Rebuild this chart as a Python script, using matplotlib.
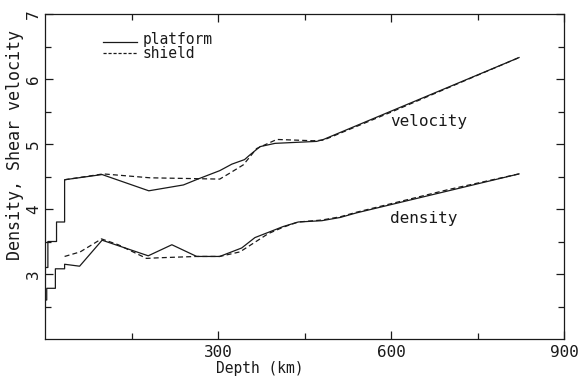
import matplotlib
matplotlib.use("Agg")
import matplotlib.pyplot as plt
from matplotlib.ticker import FixedLocator

# ---- data (depth in km) ----
plat_vel_depth = [0, 5, 5, 20, 20, 34, 34, 99, 180, 240, 265, 303, 324, 346, 355, 373, 399, 471, 483, 822]
plat_vel = [3.10, 3.10, 3.50, 3.50, 3.80, 3.80, 4.45, 4.53, 4.28, 4.37, 4.46, 4.59, 4.69, 4.76, 4.83, 4.96, 5.01, 5.04, 5.07, 6.33]

shield_vel_depth = [34, 101, 182, 303, 322, 344, 367, 402, 465, 483, 600, 822]
shield_vel = [4.45, 4.54, 4.48, 4.46, 4.56, 4.68, 4.93, 5.07, 5.05, 5.06, 5.49, 6.33]

plat_den_depth = [0, 3, 3, 18, 18, 34, 34, 60, 99, 179, 220, 263, 303, 341, 364, 390, 413, 439, 480, 512, 540, 822]
plat_den = [2.60, 2.60, 2.78, 2.78, 3.08, 3.08, 3.15, 3.12, 3.52, 3.28, 3.45, 3.27, 3.27, 3.40, 3.56, 3.65, 3.73, 3.80, 3.82, 3.87, 3.94, 4.54]

shield_den_depth = [34, 61, 98, 127, 176, 199, 263, 303, 338, 387, 413, 439, 480, 512, 540, 700, 822]
shield_den = [3.27, 3.34, 3.54, 3.45, 3.24, 3.25, 3.27, 3.27, 3.34, 3.62, 3.72, 3.80, 3.83, 3.88, 3.95, 4.30, 4.54]

legend_labels = ["platform", "shield"]
curve_labels = ["velocity", "density"]
xticks = [300, 600, 900]
xminor = [150, 450, 750]
yticks = [3, 4, 5, 6, 7]
yminor = [2.5, 3.5, 4.5, 5.5, 6.5]

FONT = "DejaVu Sans Mono"
INK = "#1a1a1a"

fig = plt.figure(figsize=(5.79, 3.79), dpi=100)
ax = fig.add_axes([45/579, 40/379, 519/579, 325/379])

lw = 0.9
ax.plot(plat_vel_depth, plat_vel, color=INK, lw=lw, ls="-")
ax.plot(shield_vel_depth, shield_vel, color=INK, lw=lw, ls=(0, (4, 2.5)))
ax.plot(plat_den_depth, plat_den, color=INK, lw=lw, ls="-")
ax.plot(shield_den_depth, shield_den, color=INK, lw=lw, ls=(0, (4, 2.5)))

ax.set_xlim(0, 900)
ax.set_ylim(2, 7)

ax.xaxis.set_major_locator(FixedLocator(xticks))
ax.xaxis.set_minor_locator(FixedLocator(xminor))
ax.yaxis.set_major_locator(FixedLocator(yticks))
ax.yaxis.set_minor_locator(FixedLocator(yminor))

ax.tick_params(which="both", direction="in", top=True, right=True, color=INK, width=0.9)
ax.tick_params(which="major", length=6)
ax.tick_params(which="minor", length=4)
ax.tick_params(axis="x", which="major", pad=4, labelsize=11.5, labelcolor=INK)
ax.tick_params(axis="y", which="major", pad=3, labelsize=11.5, labelcolor=INK, labelrotation=90)
for lab in ax.get_xticklabels() + ax.get_yticklabels():
    lab.set_family(FONT)
for lab in ax.get_yticklabels():
    lab.set_va("center")

for s in ax.spines.values():
    s.set_color(INK)
    s.set_linewidth(0.9)

ax.set_xlabel("Depth (km)", family=FONT, fontsize=10.5, color=INK)
ax.xaxis.set_label_coords(0.414, -0.068)
ax.set_ylabel("Density, Shear velocity", family=FONT, fontsize=12, color=INK)
ax.yaxis.set_label_coords(-0.040, 0.597)

# legend drawn in axes coordinates
ax.plot([0.112, 0.177], [0.915, 0.915], transform=ax.transAxes, color=INK, lw=lw, ls="-")
ax.plot([0.112, 0.177], [0.881, 0.881], transform=ax.transAxes, color=INK, lw=lw, ls=(0, (2.5, 1.5)))
ax.text(0.188, 0.921, legend_labels[0], transform=ax.transAxes, family=FONT, fontsize=10.5,
        color=INK, va="center", ha="left")
ax.text(0.188, 0.879, legend_labels[1], transform=ax.transAxes, family=FONT, fontsize=10.5,
        color=INK, va="center", ha="left")

ax.text(598, 5.35, curve_labels[0], family=FONT, fontsize=11.5, color=INK, va="center", ha="left")
ax.text(598, 3.86, curve_labels[1], family=FONT, fontsize=11.5, color=INK, va="center", ha="left")

fig.savefig("out.png", dpi=100)
